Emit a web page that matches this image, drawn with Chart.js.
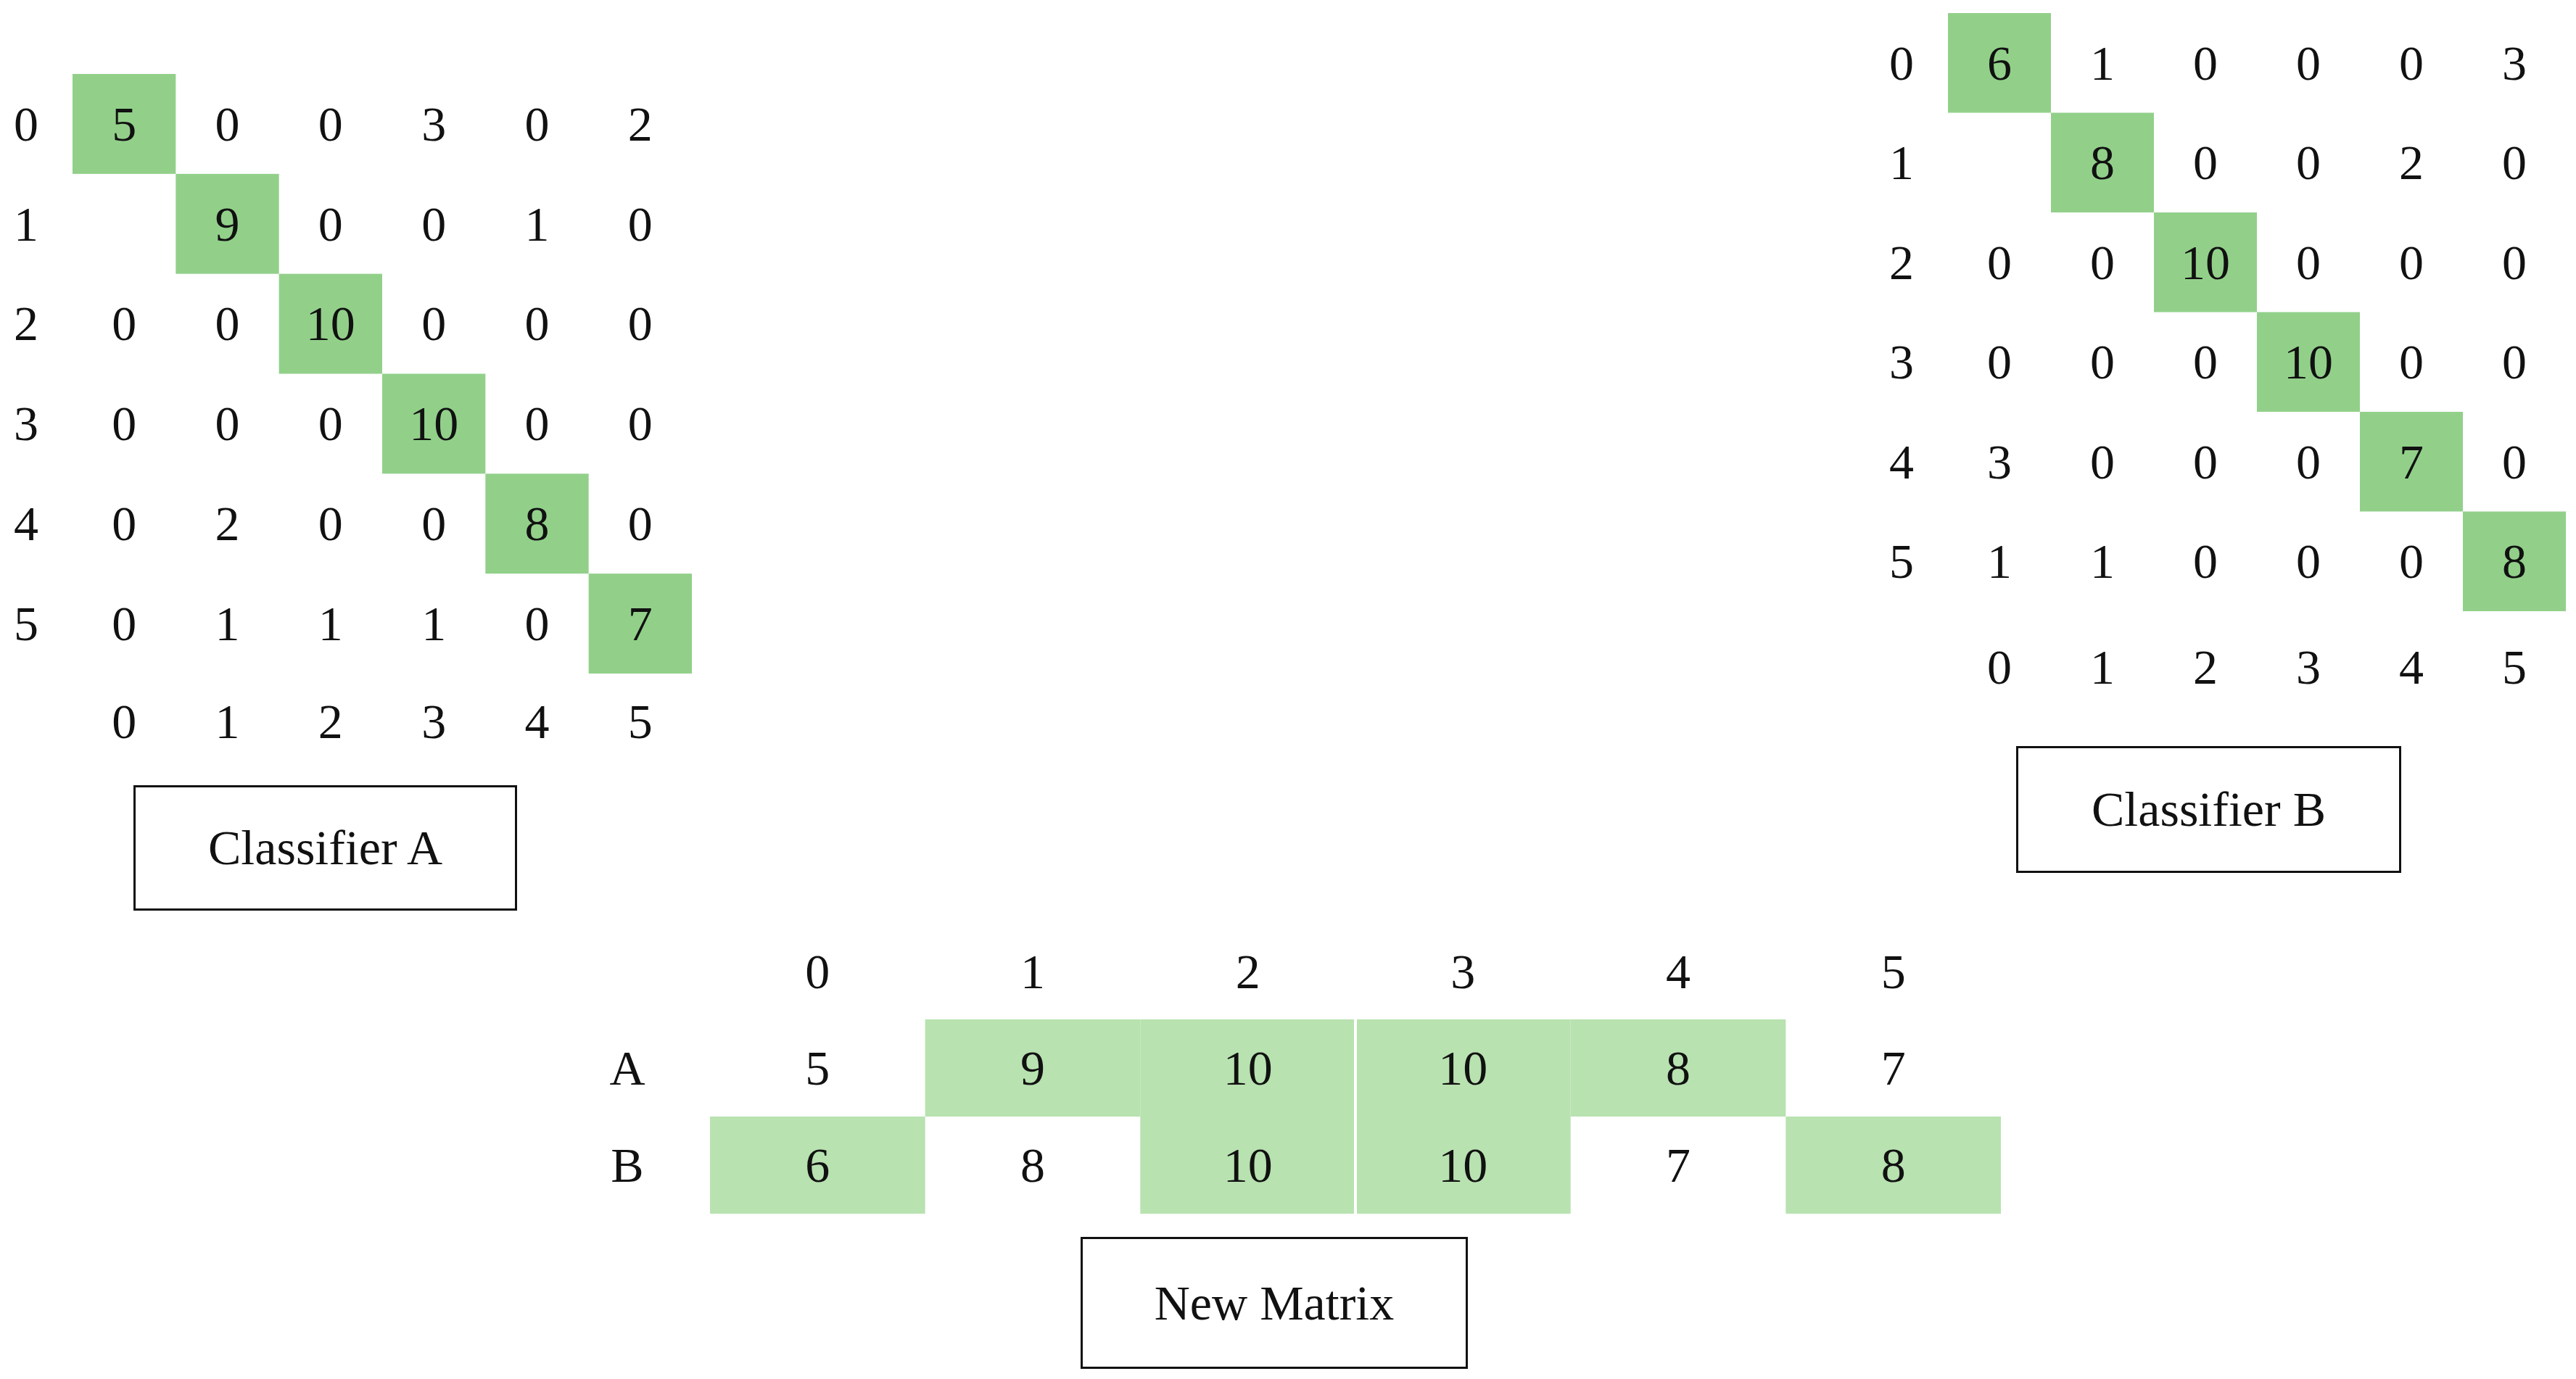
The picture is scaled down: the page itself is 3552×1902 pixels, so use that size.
<!DOCTYPE html>
<html><head><meta charset="utf-8">
<script src="https://cdn.jsdelivr.net/npm/chart.js@4.4.1/dist/chart.umd.min.js"></script>
<style>
html,body{margin:0;padding:0;background:#fff;width:3552px;height:1902px;overflow:hidden;position:relative}
canvas{position:absolute}
.box{position:absolute;border:3px solid #111;box-sizing:border-box;display:flex;align-items:center;justify-content:center;font-family:"Liberation Serif","Times New Roman",serif;font-size:68px;color:#111}
</style></head><body>
<canvas id="cA"></canvas><canvas id="cB"></canvas><canvas id="cN"></canvas>
<div class="box" id="bA">Classifier A</div>
<div class="box" id="bB">Classifier B</div>
<div class="box" id="bN">New Matrix</div>
<script>
const S = 3552/1564;
const classes = ['0','1','2','3','4','5'];
const matrixA = [
 [5,0,0,3,0,2],
 [null,9,0,0,1,0],
 [0,0,10,0,0,0],
 [0,0,0,10,0,0],
 [0,2,0,0,8,0],
 [0,1,1,1,0,7]];
const matrixB = [
 [6,1,0,0,0,3],
 [null,8,0,0,2,0],
 [0,0,10,0,0,0],
 [0,0,0,10,0,0],
 [3,0,0,0,7,0],
 [1,1,0,0,0,8]];
const newRows = ['A','B'];
const newA = [5,9,10,10,8,7];
const newB = [6,8,10,10,7,8];
const newMatrix = [newA,newB];
const greenA = [[0,1,1,1,1,0],[1,0,1,1,0,1]];

const FONT = '"Liberation Serif","Times New Roman",serif';
function px(v){return Math.round(v*S);}

function makeChart(id, rect, pad, xLabels, yLabels, values, isGreen, fill, labelOpts){
  const c = document.getElementById(id);
  c.width = px(rect[2]); c.height = px(rect[3]);
  c.style.left = px(rect[0])+'px'; c.style.top = px(rect[1])+'px';
  const plugin = {
    id:'cells'+id,
    afterDraw(chart){
      const ctx = chart.ctx, xs = chart.scales.x, ys = chart.scales.y;
      const cw = (xs.right-xs.left)/xLabels.length, ch = (ys.bottom-ys.top)/yLabels.length;
      ctx.save();
      ctx.font = px(30)+'px '+FONT; ctx.textAlign='center'; ctx.textBaseline='middle'; 
      for(let r=0;r<yLabels.length;r++){
        for(let k=0;k<xLabels.length;k++){
          const cx = xs.getPixelForValue(k), cy = ys.getPixelForValue(r);
          if(isGreen(r,k)){
            ctx.fillStyle = fill;
            ctx.fillRect(cx-cw/2, cy-ch/2, cw, ch);
            if(labelOpts.gapCol===k){ctx.fillStyle='#fff';ctx.fillRect(cx-cw/2-2,cy-ch/2,4,ch);}
          }
          const v = values[r][k];
          if(v!==null){ctx.fillStyle='#111';ctx.fillText(String(v),cx,cy+px(2));}
        }
        ctx.fillStyle='#111';
        ctx.fillText(yLabels[r], xs.left - px(labelOpts.rowOff), ys.getPixelForValue(r)+px(2));
      }
      for(let k=0;k<xLabels.length;k++){
        const y = labelOpts.colTop ? ys.top - px(labelOpts.colOff) : ys.bottom + px(labelOpts.colOff);
        ctx.fillText(xLabels[k], xs.getPixelForValue(k), y+px(2));
      }
      ctx.restore();
    }
  };
  new Chart(c,{type:'bar',data:{labels:xLabels,datasets:[]},
    options:{responsive:false,animation:false,devicePixelRatio:1,
      layout:{padding:{left:px(pad[0]),top:px(pad[1]),right:px(pad[2]),bottom:px(pad[3])}},
      plugins:{legend:{display:false},tooltip:{enabled:false}},
      scales:{x:{type:'category',labels:xLabels,offset:true,display:false},
              y:{type:'category',labels:yLabels,offset:true,display:false}}},
    plugins:[plugin]});
}
const G1='#92d08a', G2='#b8e2b0';
makeChart('cA',[0,40,425,420],[44,5,5,51],classes,classes,matrixA,(r,k)=>r===k,G1,{rowOff:28,colOff:29});
makeChart('cB',[1130,0,434,430],[53,8,6,59],classes,classes,matrixB,(r,k)=>r===k,G1,{rowOff:28,colOff:34});
makeChart('cN',[340,560,890,185],[91,59,15,8],classes,newRows,newMatrix,(r,k)=>greenA[r][k]===1,G2,{rowOff:50,colOff:29,colTop:true,gapCol:3});

function box(id,x1,y1,x2,y2){const b=document.getElementById(id);b.style.left=px(x1)+'px';b.style.top=px(y1)+'px';b.style.width=px(x2-x1)+'px';b.style.height=px(y2-y1)+'px';}
box('bA',81,477,314,553);box('bB',1224,453,1458,530);box('bN',656,751,891,831);
</script></body></html>
